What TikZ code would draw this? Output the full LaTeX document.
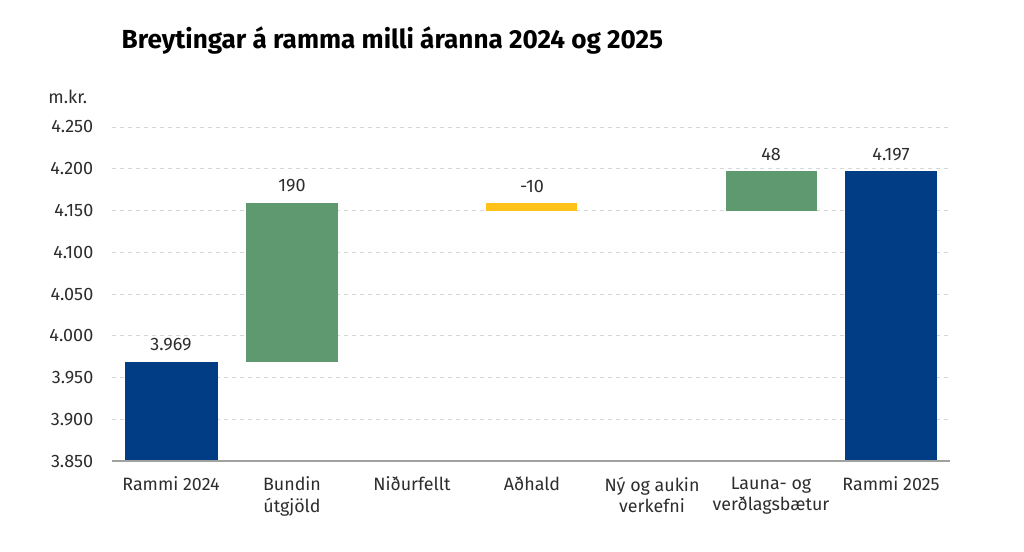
\documentclass[tikz,border=0pt]{standalone}
\usepackage{fontspec}
\setmainfont{Fira Sans}
\usetikzlibrary{positioning}
\definecolor{rammiblue}{RGB}{0,61,133}
\definecolor{haekkungreen}{RGB}{95,153,112}
\definecolor{adhaldyellow}{RGB}{255,194,26}
\definecolor{textgray}{RGB}{45,45,45}
\definecolor{gridgray}{RGB}{215,215,215}
\definecolor{axisgray}{RGB}{160,160,160}
% value (m.kr.) to vertical position
\newcommand{\chy}[1]{461-(#1-3850)*0.835}

\begin{document}
\begin{tikzpicture}[x=0.75pt, y=-0.75pt,
  ticklabel/.style={text=textgray, font=\fontsize{13.5}{16}\selectfont, anchor=east},
  vallabel/.style={text=textgray, font=\fontsize{13.5}{16}\selectfont, anchor=south},
  catlabel/.style={text=textgray, font=\fontsize{13.4}{16.2}\selectfont, anchor=north, align=center}]
  \useasboundingbox (0,0) rectangle (1024,552);

  % Title
  \node[anchor=west, font=\fontsize{19.6}{23}\selectfont\bfseries] (title) at (117,40) {Breytingar á ramma milli áranna 2024 og 2025};
  \node[ticklabel, anchor=south east] (unit) at (92,108) {m.kr.};

  % Grid lines and ticks
  \foreach \v/\t in {3900/3.900, 3950/3.950, 4000/4.000, 4050/4.050, 4100/4.100, 4150/4.150, 4200/4.200, 4250/4.250} {
    \draw[gridgray, dashed, dash pattern=on 3pt off 3pt] (112,{\chy{\v}}) -- (950,{\chy{\v}});
    \node[ticklabel] (tick\v) at (98,{\chy{\v}}) {\t};
  }
  \node[ticklabel] (tick3850) at (98,{\chy{3850}}) {3.850};

  % Bars
  \fill[rammiblue] (125,{\chy{3850}}) rectangle (218,{\chy{3969}});
  \fill[haekkungreen] (246,{\chy{3969}}) rectangle (338,{\chy{4159}});
  \fill[adhaldyellow] (486,{\chy{4159}}) rectangle (577,{\chy{4149}});
  \fill[haekkungreen] (726,{\chy{4149}}) rectangle (817,{\chy{4197}});
  \fill[rammiblue] (845,{\chy{3850}}) rectangle (937,{\chy{4197}});

  % Axis
  \draw[axisgray, line width=1.2pt] (112,{\chy{3850}}) -- (950,{\chy{3850}});

  % Value labels
  \node[vallabel] (val1) at (171,{\chy{3969}-6}) {3.969};
  \node[vallabel] (val2) at (292,{\chy{4159}-6}) {190};
  \node[vallabel] (val4) at (532,{\chy{4159}-6}) {-10};
  \node[vallabel] (val6) at (771,{\chy{4197}-6}) {48};
  \node[vallabel] (val7) at (891,{\chy{4197}-6}) {4.197};

  % Categories
  \foreach \x/\t [count=\i] in {171/{Rammi 2024}, 292/{Bundin\\útgjöld}, 412/{Niðurfellt}, 532/{Aðhald}, 652/{Ný og aukin\\verkefni}, 771/{Launa- og\\verðlagsbætur}, 891/{Rammi 2025}} {
    \node[catlabel] (cat\i) at (\x,472) {\t};
  }
\end{tikzpicture}
\end{document}
